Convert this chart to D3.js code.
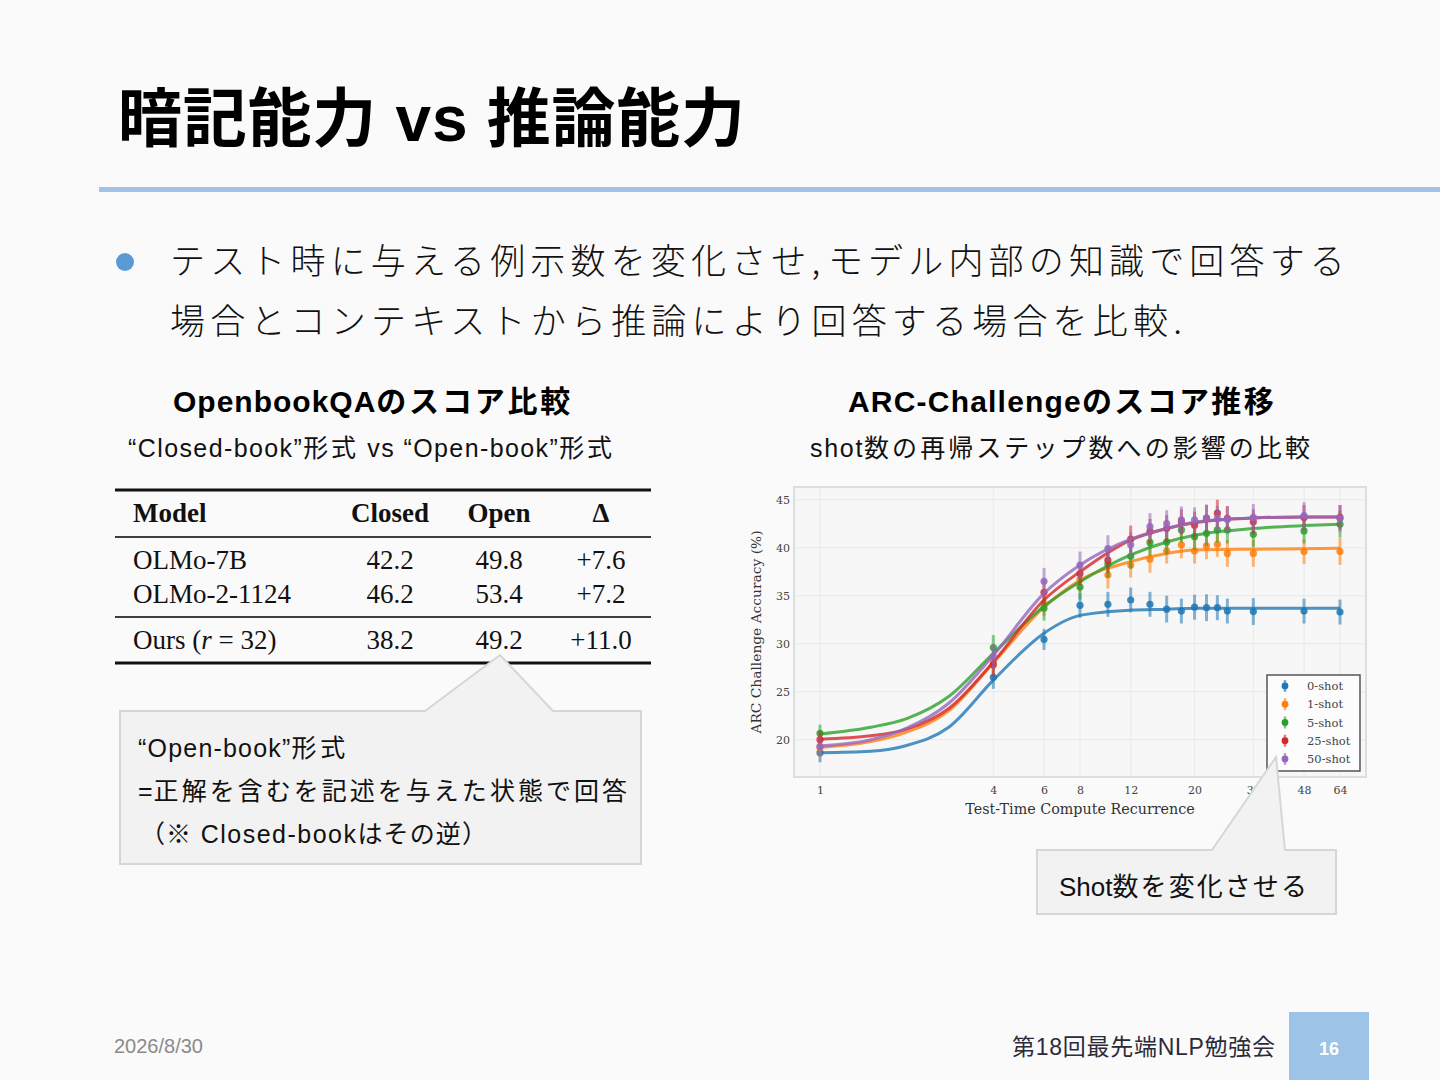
<!DOCTYPE html>
<html>
<head>
<meta charset="utf-8">
<script src="https://cdn.jsdelivr.net/npm/d3@7"></script>
<style>
  body { margin: 0; background: #fafafa; }
  svg { display: block; }
</style>
</head>
<body>
<div id="slide"></div>
<script>
// table data
var models = ['OLMo-7B', 'OLMo-2-1124', 'Ours'];
var closedScores = [42.2, 46.2, 38.2];
var openScores = [49.8, 53.4, 49.2];
var deltas = ['+7.6', '+7.2', '+11.0'];

// chart data
var xTicks = [1, 4, 6, 8, 12, 20, 32, 48, 64];
var yTicks = [20, 25, 30, 35, 40, 45];
var recurrence = [1, 4, 6, 8, 10, 12, 14, 16, 18, 20, 22, 24, 26, 32, 48, 64];
var shots = ['0-shot', '1-shot', '5-shot', '25-shot', '50-shot'];
var colors = ['#1f77b4', '#ff7f0e', '#2ca02c', '#d62728', '#9467bd'];

var acc0 = [18.65, 26.5, 30.45, 34.0, 34.1, 34.55, 34.1, 33.6, 33.4, 33.8, 33.75, 33.75, 33.4, 33.35, 33.4, 33.3];
var acc1 = [19.2, 28.1, 34.2, 36.7, 37.15, 38.2, 38.8, 39.65, 40.3, 39.65, 40.2, 40.35, 39.4, 39.4, 39.6, 39.6];
var acc5 = [20.67, 29.6, 33.7, 35.9, 38.3, 39.1, 40.55, 40.6, 41.85, 41.15, 41.5, 41.85, 41.85, 41.4, 41.75, 42.45];
var acc25 = [20.0, 27.8, 35.35, 37.3, 38.7, 40.9, 41.7, 42.0, 42.7, 42.35, 43.05, 43.6, 43.05, 42.7, 43.15, 43.15];
var acc50 = [19.3, 28.65, 36.5, 38.2, 39.9, 40.3, 42.2, 42.5, 42.9, 42.9, 43.1, 43.05, 42.95, 43.15, 43.35, 43.05];

var err0 = [1.0, 1.2, 1.1, 1.3, 1.3, 1.3, 1.3, 1.4, 1.3, 1.3, 1.4, 1.3, 1.3, 1.4, 1.3, 1.3];
var err1 = [1.0, 1.2, 1.3, 1.3, 1.4, 1.3, 1.4, 1.3, 1.4, 1.3, 1.4, 1.3, 1.4, 1.4, 1.3, 1.4];
var err5 = [0.9, 1.3, 1.3, 1.3, 1.4, 1.3, 1.4, 1.3, 1.3, 1.4, 1.3, 1.3, 1.4, 1.3, 1.3, 1.4];
var err25 = [0.9, 1.2, 1.3, 1.2, 1.3, 1.4, 1.3, 1.4, 1.3, 1.4, 1.4, 1.4, 1.3, 1.3, 1.3, 1.3];
var err50 = [1.0, 1.3, 1.4, 1.4, 1.4, 1.3, 1.4, 1.4, 1.4, 1.3, 1.4, 1.3, 1.3, 1.4, 1.4, 1.4];

var fitX = [1, 1.5, 2, 2.8, 4, 6, 8, 12, 16, 20, 32, 48, 64];
var fit0 = [18.65, 18.8, 19.4, 21.3, 26.2, 31.1, 32.95, 33.5, 33.6, 33.7, 33.7, 33.7, 33.7];
var fit1 = [19.2, 19.8, 20.8, 23.0, 28.0, 33.8, 36.6, 38.55, 39.4, 39.75, 39.85, 39.9, 39.95];
var fit5 = [20.6, 21.3, 22.2, 24.5, 29.0, 33.9, 36.45, 39.25, 40.6, 41.3, 42.0, 42.3, 42.45];
var fit25 = [20.05, 20.4, 21.1, 23.25, 28.1, 34.55, 37.5, 40.8, 42.0, 42.6, 43.1, 43.2, 43.2];
var fit50 = [19.35, 20.0, 21.2, 23.8, 28.8, 35.25, 38.2, 40.9, 42.0, 42.65, 43.1, 43.2, 43.2];

var accs = [acc0, acc1, acc5, acc25, acc50];
var errs = [err0, err1, err5, err25, err50];
var fits = [fit0, fit1, fit5, fit25, fit50];

var sans = '"Liberation Sans", "Noto Sans CJK JP", sans-serif';
var cjk = '"Noto Sans CJK JP", "Liberation Sans", sans-serif';
var serif = '"Liberation Serif", "DejaVu Serif", serif';
var plotSerif = '"DejaVu Serif", serif';

var svg = d3.select('#slide')
    .append('svg')
        .attr('width', 1440)
        .attr('height', 1080);

svg.append('rect')
    .attr('width', 1440)
    .attr('height', 1080)
    .attr('fill', '#fafafa');

// japanese text is set loose, latin a bit tighter: spread the CJK runs to fit
function spaced(sel, str, width, latinLs) {
    var runs = str.match(/[\x00-\x7F“”]+|[^\x00-\x7F“”]+/g);
    var n = 0;
    runs.forEach(function(r) {
        var latin = /[\x00-\x7F“”]/.test(r[0]);
        var t = sel.append('tspan').text(r).classed('cj', !latin);
        if (latin) t.attr('letter-spacing', latinLs || 0);
        else n += r.length;
    });
    var w = sel.node().getComputedTextLength();
    if (n > 0) {
        sel.selectAll('tspan.cj').attr('letter-spacing', (width - w) / n);
    }
}

// title
svg.append('text')
    .attr('x', 118)
    .attr('y', 141)
    .attr('font-family', sans)
    .attr('font-weight', 'bold')
    .attr('font-size', 64)
    .attr('textLength', 627)
    .attr('fill', '#000')
    .text('暗記能力 vs 推論能力');

svg.append('rect')
    .attr('x', 99)
    .attr('y', 187)
    .attr('width', 1341)
    .attr('height', 5)
    .attr('fill', '#a3c3e6');

// bullet
svg.append('circle')
    .attr('cx', 125)
    .attr('cy', 262)
    .attr('r', 9)
    .attr('fill', '#5b9bd5');

var bullet = [
    {t: 'テスト時に与える例示数を変化させ, モデル内部の知識で回答する', y: 274, w: 1180},
    {t: '場合とコンテキストから推論により回答する場合を比較.', y: 334, w: 1012}
];
bullet.forEach(function(d) {
    var t = svg.append('text')
        .attr('x', 170)
        .attr('y', d.y)
        .attr('font-family', cjk)
        .attr('font-weight', 300)
        .attr('font-size', 35)
        .attr('fill', '#111');
    spaced(t, d.t, d.w, 0);
});

// section headings
var headings = [
    {t: 'OpenbookQAのスコア比較', x: 173, w: 400, ls: 1},
    {t: 'ARC-Challengeのスコア推移', x: 848, w: 428, ls: 1.2}
];
headings.forEach(function(d) {
    var t = svg.append('text')
        .attr('x', d.x)
        .attr('y', 412)
        .attr('font-family', sans)
        .attr('font-weight', 'bold')
        .attr('font-size', 30)
        .attr('fill', '#000');
    spaced(t, d.t, d.w, d.ls);
});

var subs = [
    {t: '“Closed-book”形式 vs “Open-book”形式', x: 128, w: 487, ls: 1.4},
    {t: 'shot数の再帰ステップ数への影響の比較', x: 810, w: 503, ls: 1.7}
];
subs.forEach(function(d) {
    var t = svg.append('text')
        .attr('x', d.x)
        .attr('y', 457)
        .attr('font-family', sans)
        .attr('font-size', 25)
        .attr('fill', '#111');
    spaced(t, d.t, d.w, d.ls);
});

// ---- table ----
var table = svg.append('g');
var colX = {model: 133, closed: 390, open: 499, delta: 601};
var rowY = [569, 603, 649];

function rule(y, w) {
    table.append('rect')
        .attr('x', 115)
        .attr('y', y - w / 2)
        .attr('width', 536)
        .attr('height', w)
        .attr('fill', '#111');
}
rule(490, 3);
rule(537, 1.6);
rule(617, 1.6);
rule(663, 3);

var header = [
    {t: 'Model', x: colX.model, a: 'start'},
    {t: 'Closed', x: colX.closed, a: 'middle'},
    {t: 'Open', x: colX.open, a: 'middle'},
    {t: 'Δ', x: colX.delta, a: 'middle'}
];
table.selectAll('.th')
    .data(header)
    .enter()
    .append('text')
        .attr('x', function(d) { return d.x; })
        .attr('y', 522)
        .attr('text-anchor', function(d) { return d.a; })
        .attr('font-family', serif)
        .attr('font-weight', 'bold')
        .attr('font-size', 27)
        .attr('fill', '#111')
        .text(function(d) { return d.t; });

models.forEach(function(m, i) {
    var name = table.append('text')
        .attr('x', colX.model)
        .attr('y', rowY[i])
        .attr('font-family', serif)
        .attr('font-size', 27)
        .attr('fill', '#111');
    if (m == 'Ours') {
        name.append('tspan').text('Ours (');
        name.append('tspan').attr('font-style', 'italic').text('r');
        name.append('tspan').text(' = 32)');
    } else {
        name.text(m);
    }
    var cells = [
        [colX.closed, closedScores[i].toFixed(1)],
        [colX.open, openScores[i].toFixed(1)],
        [colX.delta, deltas[i]]
    ];
    cells.forEach(function(c) {
        table.append('text')
            .attr('x', c[0])
            .attr('y', rowY[i])
            .attr('text-anchor', 'middle')
            .attr('font-family', serif)
            .attr('font-size', 27)
            .attr('fill', '#111')
            .text(c[1]);
    });
});

// ---- chart ----
var x = d3.scaleLog().base(2)
    .domain([1, 64])
    .range([820, 1340]);
var y = d3.scaleLinear()
    .domain([20, 45])
    .range([739.7, 499.7]);

var plotL = 794, plotR = 1366, plotT = 487, plotB = 777;
var chart = svg.append('g');

chart.append('rect')
    .attr('x', plotL)
    .attr('y', plotT)
    .attr('width', plotR - plotL)
    .attr('height', plotB - plotT)
    .attr('fill', '#f7f7f7')
    .attr('stroke', '#dedede')
    .attr('stroke-width', 2);

chart.append('g')
    .selectAll('line')
    .data(xTicks)
    .enter()
    .append('line')
        .attr('x1', function(d) { return x(d); })
        .attr('x2', function(d) { return x(d); })
        .attr('y1', plotT + 1)
        .attr('y2', plotB - 1)
        .attr('stroke', '#ebebeb')
        .attr('stroke-width', 1.2);

chart.append('g')
    .selectAll('line')
    .data(yTicks)
    .enter()
    .append('line')
        .attr('x1', plotL + 1)
        .attr('x2', plotR - 1)
        .attr('y1', function(d) { return y(d); })
        .attr('y2', function(d) { return y(d); })
        .attr('stroke', '#ebebeb')
        .attr('stroke-width', 1.2);

var xAxis = chart.append('g')
    .attr('transform', 'translate(0,' + plotB + ')')
    .call(d3.axisBottom(x).tickValues(xTicks).tickFormat(d3.format('d')).tickSize(0).tickPadding(9));
var yAxis = chart.append('g')
    .attr('transform', 'translate(' + plotL + ',0)')
    .call(d3.axisLeft(y).tickValues(yTicks).tickSize(0).tickPadding(4));
[xAxis, yAxis].forEach(function(a) {
    a.select('.domain').remove();
    a.selectAll('text')
        .attr('font-family', plotSerif)
        .attr('font-size', 11)
        .attr('fill', '#444');
});

chart.append('text')
    .attr('x', (plotL + plotR) / 2)
    .attr('y', 814)
    .attr('text-anchor', 'middle')
    .attr('font-family', plotSerif)
    .attr('font-size', 14.3)
    .attr('fill', '#333')
    .text('Test-Time Compute Recurrence');

chart.append('text')
    .attr('transform', 'translate(761,' + (plotT + plotB) / 2 + ') rotate(-90)')
    .attr('text-anchor', 'middle')
    .attr('font-family', plotSerif)
    .attr('font-size', 13.8)
    .attr('fill', '#333')
    .text('ARC Challenge Accuracy (%)');

var line = d3.line()
    .x(function(d) { return x(d[0]); })
    .y(function(d) { return y(d[1]); })
    .curve(d3.curveMonotoneX);

shots.forEach(function(s, k) {
    var g = chart.append('g');
    g.append('path')
        .datum(fitX.map(function(v, i) { return [v, fits[k][i]]; }))
        .attr('d', line)
        .attr('fill', 'none')
        .attr('stroke', colors[k])
        .attr('stroke-width', 3)
        .attr('stroke-opacity', 0.8);
    var pts = recurrence.map(function(v, i) { return {x: v, y: accs[k][i], e: errs[k][i]}; });
    g.selectAll('.eb')
        .data(pts)
        .enter()
        .append('line')
            .attr('x1', function(d) { return x(d.x); })
            .attr('x2', function(d) { return x(d.x); })
            .attr('y1', function(d) { return y(d.y - d.e); })
            .attr('y2', function(d) { return y(d.y + d.e); })
            .attr('stroke', colors[k])
            .attr('stroke-width', 3)
            .attr('stroke-opacity', 0.55);
    g.selectAll('.pt')
        .data(pts)
        .enter()
        .append('circle')
            .attr('cx', function(d) { return x(d.x); })
            .attr('cy', function(d) { return y(d.y); })
            .attr('r', 3.6)
            .attr('fill', colors[k])
            .attr('fill-opacity', 0.85);
});

// legend
var legend = chart.append('g');
legend.append('rect')
    .attr('x', 1267)
    .attr('y', 675)
    .attr('width', 93)
    .attr('height', 96)
    .attr('fill', '#fcfcfc')
    .attr('stroke', '#555')
    .attr('stroke-width', 1.5);
var ly = d3.scalePoint().domain(shots).range([686, 759]);
shots.forEach(function(s, k) {
    legend.append('line')
        .attr('x1', 1285).attr('x2', 1285)
        .attr('y1', ly(s) - 6).attr('y2', ly(s) + 6)
        .attr('stroke', colors[k])
        .attr('stroke-width', 2.5)
        .attr('stroke-opacity', 0.6);
    legend.append('circle')
        .attr('cx', 1285)
        .attr('cy', ly(s))
        .attr('r', 3.4)
        .attr('fill', colors[k]);
    legend.append('text')
        .attr('x', 1307)
        .attr('y', ly(s) + 4)
        .attr('font-family', plotSerif)
        .attr('font-size', 11.5)
        .attr('fill', '#444')
        .text(s);
});

// ---- callouts ----
function callout(bx, by, bw, bh, p1, tip, p2) {
    var pts = [
        [bx, by], [p1, by], tip, [p2, by], [bx + bw, by],
        [bx + bw, by + bh], [bx, by + bh]
    ];
    svg.append('path')
        .attr('d', d3.line()(pts) + 'Z')
        .attr('fill', '#f2f2f2')
        .attr('stroke', '#d6d6d6')
        .attr('stroke-width', 2)
        .attr('stroke-linejoin', 'miter');
}
callout(120, 711, 521, 153, 425, [500, 655], 553);
callout(1037, 850, 299, 64, 1212, [1276, 757], 1285);

var note1 = [
    {t: '“Open-book”形式', x: 138, y: 757, w: 211, ls: 1.2},
    {t: '=正解を含むを記述を与えた状態で回答', x: 138, y: 800, w: 492, ls: 1},
    {t: '（※ Closed-bookはその逆）', x: 140, y: 843, w: 348, ls: 1.5}
];
note1.forEach(function(d) {
    var t = svg.append('text')
        .attr('x', d.x)
        .attr('y', d.y)
        .attr('font-family', sans)
        .attr('font-size', 25)
        .attr('fill', '#111');
    spaced(t, d.t, d.w, d.ls);
});

var shotNote = svg.append('text')
    .attr('x', 1059)
    .attr('y', 896)
    .attr('font-family', sans)
    .attr('font-size', 26)
    .attr('fill', '#111');
spaced(shotNote, 'Shot数を変化させる', 250, 0);

// ---- footer ----
svg.append('text')
    .attr('x', 114)
    .attr('y', 1053)
    .attr('font-family', sans)
    .attr('font-size', 20)
    .attr('fill', '#8a8a8a')
    .text('2026/8/30');

svg.append('text')
    .attr('x', 1275)
    .attr('y', 1055)
    .attr('text-anchor', 'end')
    .attr('font-family', sans)
    .attr('font-size', 23)
    .attr('textLength', 263)
    .attr('fill', '#2b2b3a')
    .text('第18回最先端NLP勉強会');

svg.append('rect')
    .attr('x', 1289)
    .attr('y', 1012)
    .attr('width', 80)
    .attr('height', 68)
    .attr('fill', '#9dc3e6');
svg.append('text')
    .attr('x', 1329)
    .attr('y', 1055)
    .attr('text-anchor', 'middle')
    .attr('font-family', sans)
    .attr('font-weight', 'bold')
    .attr('font-size', 18)
    .attr('fill', '#fff')
    .text('16');
</script>
</body>
</html>
